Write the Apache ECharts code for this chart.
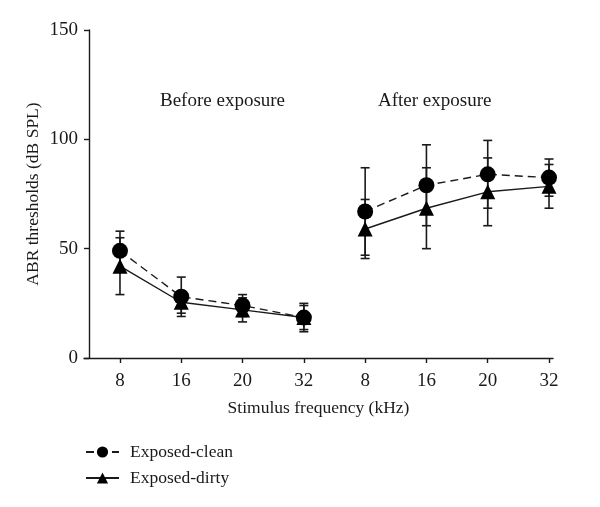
<!DOCTYPE html>
<html>
<head>
<meta charset="utf-8">
<script src="https://cdn.jsdelivr.net/npm/echarts@6/dist/echarts.min.js"></script>
<style>html,body{margin:0;padding:0;background:#fff;}#c{width:600px;height:507px;}</style>
</head>
<body>
<div id="c"></div>
<script>
const categories = ['8', '16', '20', '32', '8', '16', '20', '32'];
const yTicks = [0, 50, 100, 150];
const cleanMean = [49, 28, 24, 18.5, 67, 79, 84, 82.5];
const cleanSD   = [9, 9, 5, 6.5, 20, 18.5, 15.5, 8.5];
const dirtyMean = [42, 25.5, 22, 18.5, 59, 68.5, 76, 78.5];
const dirtySD   = [13, 5, 5.5, 5.5, 13.5, 18.5, 15.5, 10];
const segments = [[0, 1, 2, 3], [4, 5, 6, 7]];
const groupLabels = ['Before exposure', 'After exposure'];

const FONT = '"Liberation Serif", "DejaVu Serif", serif';
const INK = '#1a1a1a';

function lineSeries(name, mean, symbol, size, type) {
  return segments.map(idx => ({
    name: name,
    type: 'line',
    data: idx.map(i => [i, mean[i]]),
    symbol: symbol,
    symbolSize: size,
    showSymbol: true,
    lineStyle: { color: INK, width: 1.4, type: type },
    itemStyle: { color: '#000' },
    z: 3,
    animation: false
  }));
}
function errSeries(name, mean, sd) {
  return {
    name: name + '-err',
    type: 'custom',
    data: mean.map((m, i) => [i, m - sd[i], m + sd[i]]),
    encode: { x: 0, y: [1, 2] },
    renderItem: function (params, api) {
      const x = api.value(0);
      const lo = api.coord([x, api.value(1)]);
      const hi = api.coord([x, api.value(2)]);
      const w = 4.5;
      const st = { stroke: INK, lineWidth: 1.6 };
      return {
        type: 'group',
        children: [
          { type: 'line', shape: { x1: lo[0], y1: lo[1], x2: hi[0], y2: hi[1] }, style: st },
          { type: 'line', shape: { x1: lo[0] - w, y1: lo[1], x2: lo[0] + w, y2: lo[1] }, style: st },
          { type: 'line', shape: { x1: hi[0] - w, y1: hi[1], x2: hi[0] + w, y2: hi[1] }, style: st }
        ]
      };
    },
    z: 2,
    animation: false
  };
}

const chart = echarts.init(document.getElementById('c'), null, { renderer: 'canvas' });
chart.setOption({
  backgroundColor: '#fff',
  animation: false,
  textStyle: { fontFamily: FONT, color: INK },
  grid: { left: 84, right: 47, top: 30, bottom: 149, containLabel: false },
  xAxis: {
    type: 'value',
    min: -0.587,
    max: 7.065,
    splitLine: { show: false },
    axisLine: { show: true, onZero: false, lineStyle: { color: INK, width: 1.4 } },
    axisTick: { show: true, length: 5, lineStyle: { color: INK, width: 1.4 }, customValues: categories.map((c, i) => i) },
    axisLabel: {
      show: true, margin: 14, fontSize: 19, fontFamily: FONT, color: INK,
      customValues: categories.map((c, i) => i),
      formatter: v => categories[Math.round(v)]
    },
    name: 'Stimulus frequency (kHz)',
    nameLocation: 'middle',
    nameGap: 41,
    nameMoveOverlap: false,
    nameTextStyle: { fontSize: 17.5, fontFamily: FONT, color: INK }
  },
  yAxis: {
    type: 'value',
    min: 0, max: 150, interval: 50,
    offset: -5,
    splitLine: { show: false },
    axisLine: { show: true, onZero: false, lineStyle: { color: INK, width: 1.4 } },
    axisTick: { show: true, length: 5, lineStyle: { color: INK, width: 1.4 } },
    axisLabel: { margin: 11, fontSize: 19, fontFamily: FONT, color: INK, formatter: v => yTicks.includes(v) ? String(v) : '' },
    name: 'ABR thresholds (dB SPL)',
    nameLocation: 'middle',
    nameGap: 47,
    nameMoveOverlap: false,
    nameTextStyle: { fontSize: 17.5, fontFamily: FONT, color: INK }
  },
  legend: {
    orient: 'vertical',
    left: 85, top: 443, padding: 0,
    itemWidth: 33, itemHeight: 14, itemGap: 8,
    textStyle: { fontSize: 17.5, fontFamily: FONT, color: INK, padding: [0, 0, 0, 6] },
    data: ['Exposed-clean', 'Exposed-dirty']
  },
  graphic: [
    { type: 'text', left: 160, top: 92, style: { text: groupLabels[0], font: '19px ' + FONT, fill: INK } },
    { type: 'text', left: 378, top: 92, style: { text: groupLabels[1], font: '19px ' + FONT, fill: INK } }
  ],
  series: [
    errSeries('Exposed-clean', cleanMean, cleanSD),
    errSeries('Exposed-dirty', dirtyMean, dirtySD),
    ...lineSeries('Exposed-clean', cleanMean, 'circle', 16, [8, 5]),
    ...lineSeries('Exposed-dirty', dirtyMean, 'triangle', 15, 'solid')
  ]
});
</script>
</body>
</html>
